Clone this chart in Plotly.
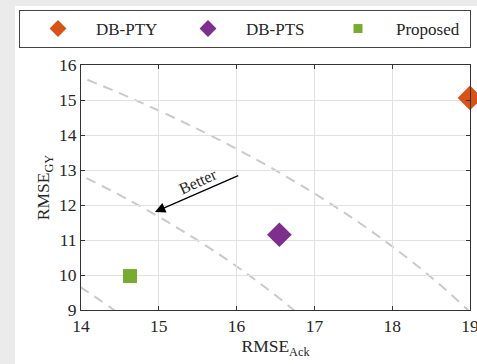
import plotly.graph_objects as go

# Data
methods = ["DB-PTY", "DB-PTS", "Proposed"]
rmse_ack = [19.0, 16.55, 14.63]
rmse_gy = [15.06, 11.15, 9.97]
colors = ["#D95319", "#7E2F8E", "#77AC30"]
symbols = ["diamond", "diamond", "square"]
sizes = [19, 19, 14]
legend_sizes = [13, 13, 9]
contour_radii = [17, 19, 21]
x_ticks = [14, 15, 16, 17, 18, 19]
y_ticks = [9, 10, 11, 12, 13, 14, 15, 16]

font = "Liberation Serif"
txt = "#262626"

fig = go.Figure()
for m, xv, yv, c, s, sz, lsz in zip(methods, rmse_ack, rmse_gy, colors, symbols, sizes, legend_sizes):
    fig.add_trace(go.Scatter(
        x=[xv], y=[yv], mode="markers", name=m, showlegend=False,
        marker=dict(color=c, symbol=s, size=sz, line=dict(width=0)),
        cliponaxis=False,
    ))
    fig.add_trace(go.Scatter(
        x=[None], y=[None], mode="markers", name=m, showlegend=True,
        marker=dict(color=c, symbol=s, size=lsz, line=dict(width=0)),
    ))

shapes = []
for r in contour_radii:
    shapes.append(dict(type="circle", xref="x", yref="y", x0=-r, y0=-r, x1=r, y1=r,
                       line=dict(color="#cacaca", width=2, dash="10px,7px"), layer="below"))
# screenshot shadow edges
shapes.append(dict(type="rect", xref="paper", yref="paper", x0=-0.22, x1=-0.1697, y0=-0.3, y1=1.3,
                   fillcolor="#ebebeb", line=dict(width=0), layer="below"))
shapes.append(dict(type="rect", xref="paper", yref="paper", x0=-0.22, x1=1.1, y0=1.2408, y1=1.3,
                   fillcolor="#ebebeb", line=dict(width=0), layer="below"))
fig.update_layout(shapes=shapes)

fig.add_annotation(x=14.95, y=11.8, ax=16.04, ay=12.86, xref="x", yref="y", axref="x", ayref="y",
                   showarrow=True, arrowhead=2, arrowsize=1.6, arrowwidth=1.3, arrowcolor="black", text="")
fig.add_annotation(x=15.5, y=12.68, xref="x", yref="y", text="Better", showarrow=False,
                   textangle=-25, font=dict(family=font, size=16, color=txt))

axis_common = dict(showline=True, linecolor="#333", linewidth=1, mirror="ticks",
                   ticks="inside", ticklen=4, tickcolor="#333",
                   showgrid=True, gridcolor="#e2e2e2", gridwidth=1, zeroline=False,
                   ticklabeloverflow="allow",
                   tickfont=dict(family=font, size=17.5, color=txt))
fig.update_xaxes(range=[14, 19], tickvals=x_ticks, title=dict(text="RMSE<sub>Ack</sub>",
                 font=dict(family=font, size=17.5, color=txt), standoff=4), **axis_common)
fig.update_yaxes(range=[9, 16], tickvals=y_ticks, title=dict(text="RMSE<sub>GY</sub>",
                 font=dict(family=font, size=17.5, color=txt), standoff=4), **axis_common)

fig.update_layout(
    width=477, height=364,
    margin=dict(l=81, r=7, t=65, b=54, autoexpand=False),
    paper_bgcolor="white", plot_bgcolor="white",
    showlegend=True,
    legend=dict(orientation="h", x=(19 - 81) / 389, xref="paper", xanchor="left",
                y=(310 - 10) / 245, yref="paper", yanchor="top",
                bordercolor="#444", borderwidth=1, bgcolor="white",
                itemwidth=66, entrywidth=69, entrywidthmode="pixels",
                font=dict(family=font, size=17, color=txt)),
)

fig.write_html("out.html", config={"displayModeBar": False},
               post_script="document.body.style.margin='0';document.body.style.padding='0';")
